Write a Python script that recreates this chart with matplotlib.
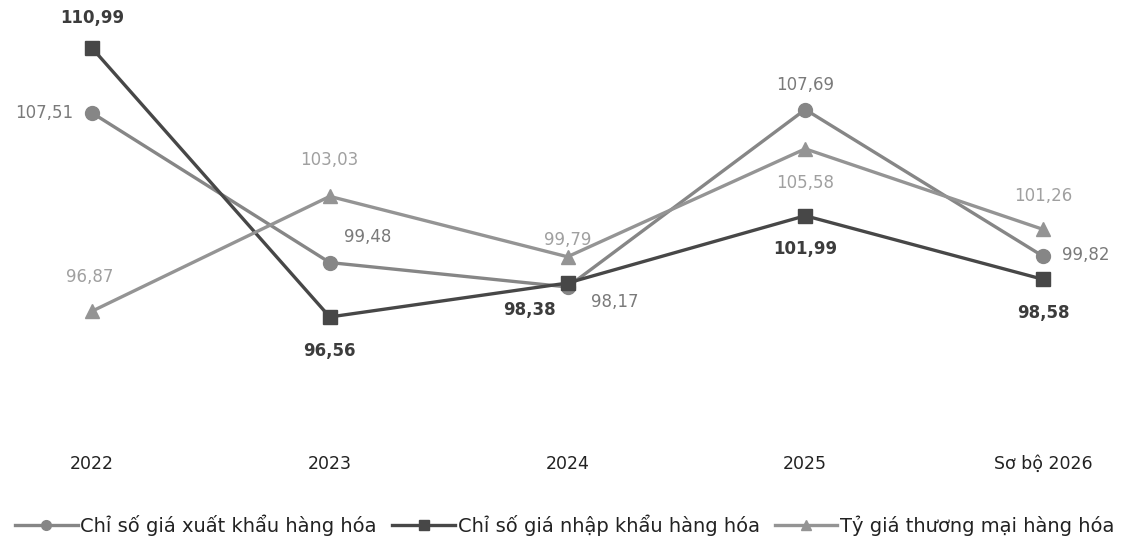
import matplotlib
matplotlib.use('Agg')
import matplotlib.pyplot as plt

plt.rcParams['font.family'] = ['DejaVu Sans']

years = ['2022', '2023', '2024', '2025', 'Sơ bộ 2026']
export_idx = [107.51, 99.48, 98.17, 107.69, 99.82]
import_idx = [110.99, 96.56, 98.38, 101.99, 98.58]
tot_idx = [96.87, 103.03, 99.79, 105.58, 101.26]

export_name = 'Chỉ số giá xuất khẩu hàng hóa'
import_name = 'Chỉ số giá nhập khẩu hàng hóa'
tot_name = 'Tỷ giá thương mại hàng hóa'

# label offsets in pixels for each point
export_off = [(-48, 0), (38, 26), (47, -15), (0, 25), (43, 1)]
import_off = [(0, 30), (0, -34), (-38, -27), (0, -33), (0, -34)]
tot_off = [(-2, 34), (0, 36), (0, 17), (0, -34), (0, 33)]

c_exp = '#868686'
c_imp = '#474747'
c_tot = '#949494'

fig = plt.figure(figsize=(11.26, 5.51), dpi=100)
ax = fig.add_axes([0, 111 / 551, 1, 440 / 551])
x = range(len(years))

ax.plot(x, export_idx, color=c_exp, lw=2.4, marker='o', ms=10, label=export_name)
ax.plot(x, import_idx, color=c_imp, lw=2.4, marker='s', ms=10, label=import_name)
ax.plot(x, tot_idx, color=c_tot, lw=2.4, marker='^', ms=10, label=tot_name)

def fmt(v):
    return ('%.2f' % v).replace('.', ',')

for i in x:
    ax.annotate(fmt(export_idx[i]), (i, export_idx[i]), xytext=export_off[i],
                textcoords='offset pixels', ha='center', va='center',
                fontsize=12, color='#7a7a7a')
    ax.annotate(fmt(import_idx[i]), (i, import_idx[i]), xytext=import_off[i],
                textcoords='offset pixels', ha='center', va='center',
                fontsize=12, color='#3c3c3c', fontweight='semibold')
    ax.annotate(fmt(tot_idx[i]), (i, tot_idx[i]), xytext=tot_off[i],
                textcoords='offset pixels', ha='center', va='center',
                fontsize=12, color='#a0a0a0')

ax.set_xlim(-92 / 237.75, (1126 - 92) / 237.75)
ax.set_ylim(110.99 - (440 - 48) / 18.64, 110.99 + 48 / 18.64)
ax.set_xticks(list(x))
ax.set_xticklabels(years, fontsize=12.5, color='#222222')
ax.tick_params(axis='x', length=0, pad=11)
ax.set_yticks([])
for s in ax.spines.values():
    s.set_visible(False)

fig.legend(loc='center', bbox_to_anchor=(565 / 1126, 1 - 525 / 551), ncol=3,
           frameon=False, fontsize=14, handlelength=3.2, handletextpad=0.15,
           columnspacing=0.8, markerscale=0.7, labelcolor='#222222')

fig.savefig('out.png', dpi=100)
